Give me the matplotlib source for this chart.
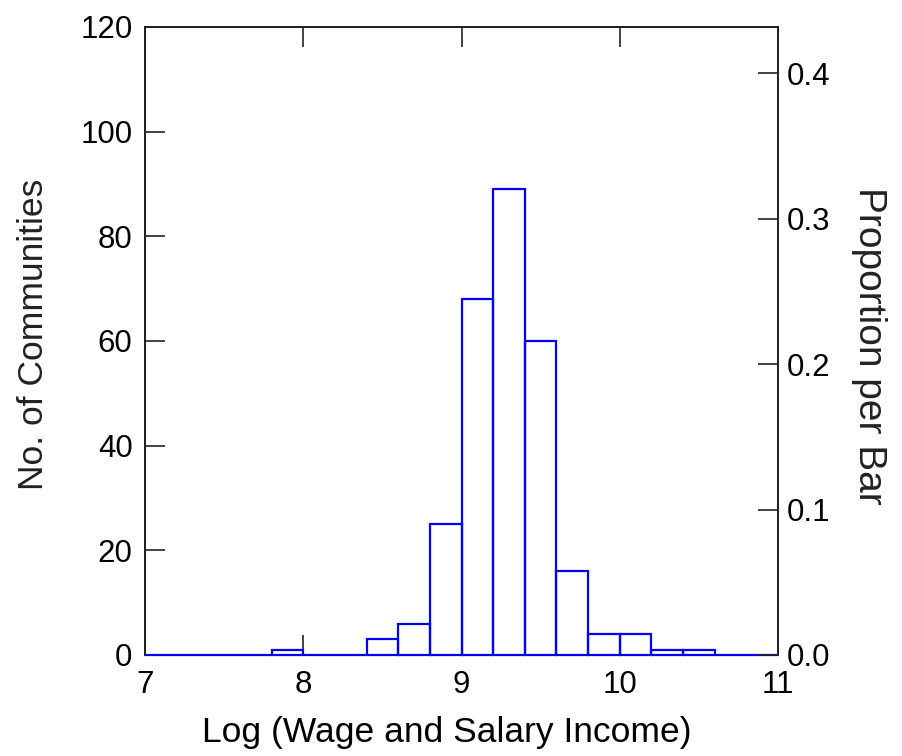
import numpy as np
import matplotlib.pyplot as plt
from matplotlib.ticker import FormatStrFormatter

plt.rcParams['font.family'] = ['Liberation Sans', 'DejaVu Sans']

# histogram bins (left edges) and counts
bin_left = [7.0, 7.2, 7.4, 7.6, 7.8, 8.0, 8.2, 8.4, 8.6, 8.8,
            9.0, 9.2, 9.4, 9.6, 9.8, 10.0, 10.2, 10.4, 10.6, 10.8]
counts = [0, 0, 0, 0, 1, 0, 0, 3, 6, 25,
          68, 89, 60, 16, 4, 4, 1, 1, 0, 0]
bin_width = 0.2
total = sum(counts)

fig = plt.figure(figsize=(9.02, 7.56), dpi=100)
ax = fig.add_axes([0.1608, 0.1336, 0.7017, 0.8307])

ax.bar(bin_left, counts, width=bin_width, align='edge', fill=False,
       edgecolor='blue', linewidth=1.6, zorder=3, clip_on=False)

ax.set_xlim(7, 11)
ax.set_ylim(0, 120)
ax.set_xticks([7, 8, 9, 10, 11])
ax.set_yticks(np.arange(0, 121, 20))
ax.tick_params(direction='in', length=14.5, width=1.2, labelsize=22.5,
               top=True, bottom=True, right=False, colors='#222',
               labelcolor='black')
ax.tick_params(axis='x', pad=11)
ax.tick_params(axis='y', pad=9)
ax.set_xlabel('Log (Wage and Salary Income)', fontsize=25.5, labelpad=11)
ax.xaxis.label.set_x(0.477)
ax.set_ylabel('No. of Communities', fontsize=25.5, labelpad=22, color='#222')
ax.yaxis.label.set_y(0.51)

ax2 = ax.twinx()
ax2.set_ylim(0, 120 / total)
ax2.set_yticks([0.0, 0.1, 0.2, 0.3, 0.4])
ax2.yaxis.set_major_formatter(FormatStrFormatter('%.1f'))
ax2.tick_params(direction='in', length=14.5, width=1.2, labelsize=22.5,
                pad=6, colors='#222', labelcolor='black')
ax2.set_ylabel('Proportion per Bar', fontsize=28, rotation=270,
               labelpad=41, color='#222')
ax2.yaxis.label.set_y(0.493)

for a in (ax, ax2):
    for s in a.spines.values():
        s.set_linewidth(1.4)
        s.set_color('#222')
    a.spines['bottom'].set_visible(False)

fig.savefig('out.png', dpi=100)
